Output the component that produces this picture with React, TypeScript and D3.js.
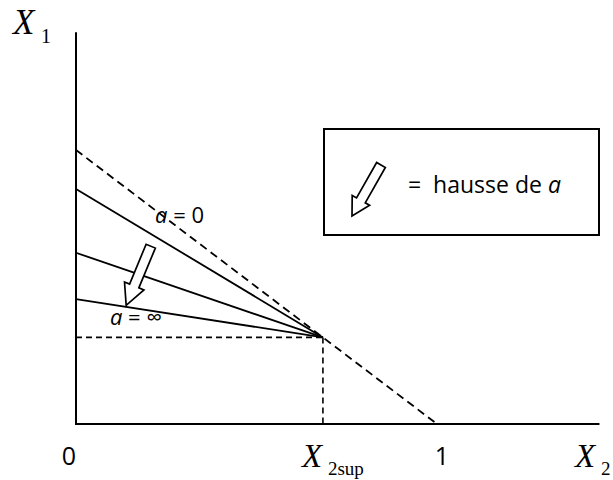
import React from "react";
import * as d3 from "d3";

// budget line: X1 + X2 = 1
const budgetLine: [number, number][] = [[0, 1], [1, 0]];
// supply point
const x2Sup = 0.684;
const x1AtSup = 0.316;
// intercepts of the three solid lines on the X1 axis (a = 0, middle, a = ∞)
const intercepts = [0.858, 0.625, 0.456];
// axis extents
const xMax = 1.45;
const yMax = 1.43;
// tick labels
const xTickLabels = [{ v: 0, t: "0" }, { v: 1, t: "1" }];
// annotations (data coords)
const curveLabels = [
  { x: 0.219, y: 0.735, t: "0" },
  { x: 0.094, y: 0.361, t: "∞" },
];
const chartArrow = { from: [0.207, 0.649], to: [0.139, 0.433] };

const W = 613;
const H = 480;

function blockArrow(x0: number, y0: number, x1: number, y1: number, shaftW: number, headW: number, headL: number) {
  const dx = x1 - x0, dy = y1 - y0;
  const len = Math.hypot(dx, dy);
  const ux = dx / len, uy = dy / len;
  const nx = -uy, ny = ux;
  const bx = x1 - ux * headL, by = y1 - uy * headL;
  const pts = [
    [x0 + nx * shaftW / 2, y0 + ny * shaftW / 2],
    [bx + nx * shaftW / 2, by + ny * shaftW / 2],
    [bx + nx * headW / 2, by + ny * headW / 2],
    [x1, y1],
    [bx - nx * headW / 2, by - ny * headW / 2],
    [bx - nx * shaftW / 2, by - ny * shaftW / 2],
    [x0 - nx * shaftW / 2, y0 - ny * shaftW / 2],
  ];
  return "M" + pts.map((p) => p.join(",")).join("L") + "Z";
}

export default function App() {
  const x = d3.scaleLinear().domain([0, 1]).range([76, 437]);
  const y = d3.scaleLinear().domain([0, 1]).range([424, 150]);
  const line = d3.line<[number, number]>().x((d) => x(d[0])).y((d) => y(d[1]));
  const sans = "'Open Sans', 'DejaVu Sans', sans-serif";
  const serif = "'Liberation Serif', 'Times New Roman', serif";

  return (
    <svg width={W} height={H} style={{ position: "absolute", left: 0, top: 0, background: "#fff" }}>
      {/* axes */}
      <path d={line([[0, yMax], [0, 0], [xMax, 0]])} fill="none" stroke="#000" strokeWidth={2} />
      {/* budget dashed line */}
      <path d={line(budgetLine)} fill="none" stroke="#000" strokeWidth={1.8} strokeDasharray="8,5" />
      {/* dashed projections */}
      <path d={line([[0, x1AtSup], [x2Sup, x1AtSup]])} fill="none" stroke="#000" strokeWidth={1.6} strokeDasharray="6,4" />
      <path d={line([[x2Sup, x1AtSup], [x2Sup, 0]])} fill="none" stroke="#000" strokeWidth={1.6} strokeDasharray="6,4" />
      {/* solid lines */}
      {intercepts.map((v, i) => (
        <path key={i} d={line([[0, v], [x2Sup, x1AtSup]])} fill="none" stroke="#000" strokeWidth={1.8} />
      ))}
      {/* chart arrow */}
      <path
        d={blockArrow(x(chartArrow.from[0]), y(chartArrow.from[1]), x(chartArrow.to[0]), y(chartArrow.to[1]), 10, 21, 21)}
        fill="#fff" stroke="#000" strokeWidth={1.7} strokeLinejoin="miter"
      />
      {/* curve labels */}
      {curveLabels.map((c, i) => (
        <text key={i} x={x(c.x)} y={y(c.y)} fontFamily={sans} fontSize={22} xmlSpace="preserve">
          <tspan fontStyle="italic">a</tspan> = {c.t}
        </text>
      ))}
      {/* legend box */}
      <rect x={324} y={129} width={275} height={106} fill="#fff" stroke="#000" strokeWidth={2} />
      <path d={blockArrow(381, 165, 352, 216, 10, 20, 18)} fill="#fff" stroke="#000" strokeWidth={1.7} />
      <text x={408} y={193} fontFamily={sans} fontSize={23} xmlSpace="preserve">
        {"=  hausse de "}<tspan fontStyle="italic">a</tspan>
      </text>
      {/* tick labels */}
      {xTickLabels.map((t) => (
        <text key={t.t} x={x(t.v) + (t.v === 0 ? -7 : 5)} y={465} fontFamily={sans} fontSize={25} textAnchor="middle">
          {t.t}
        </text>
      ))}
      {/* axis titles */}
      <text x={13} y={34} fontFamily={serif} fontSize={35} fontStyle="italic">X</text>
      <text x={41} y={43} fontFamily={serif} fontSize={20}>1</text>
      <text x={x(x2Sup) - 21} y={467} fontFamily={serif} fontSize={33} fontStyle="italic">X</text>
      <text x={x(x2Sup) + 5} y={475} fontFamily={serif} fontSize={19} xmlSpace="preserve">2sup</text>
      <text x={575} y={467} fontFamily={serif} fontSize={33} fontStyle="italic">X</text>
      <text x={601} y={475} fontFamily={serif} fontSize={19}>2</text>
    </svg>
  );
}
